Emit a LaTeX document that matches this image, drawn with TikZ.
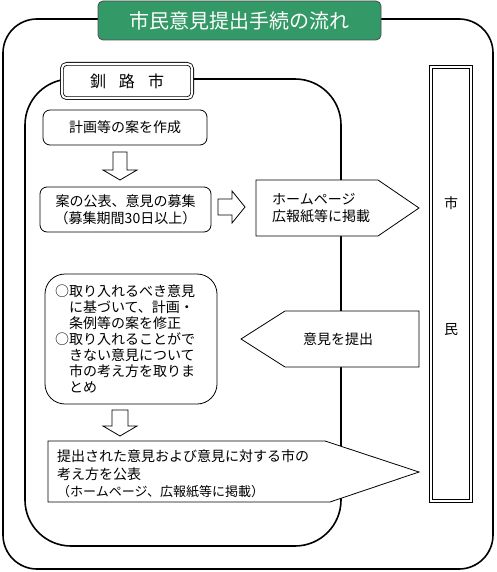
\documentclass[tikz,border=0pt]{standalone}
\usepackage{fontspec}
\newfontfamily\jp{Noto Sans CJK JP}
\definecolor{titlegreen}{RGB}{51,153,102}
\begin{document}
\begin{tikzpicture}[x=1pt,y=-1pt,
  box/.style={draw, line width=0.8pt, fill=white, rounded corners=7pt, inner sep=0pt, font=\jp\fontsize{14}{17}\selectfont},
  txt/.style={inner sep=0pt, font=\jp\fontsize{14}{17}\selectfont},
  barrow/.style={draw, line width=0.8pt, fill=white, line join=miter},
  frame/.style={draw, line width=1.6pt},
  dbox/.style={draw, double, double distance=2pt, line width=0.8pt, fill=white, inner sep=0pt}]
\useasboundingbox (0,0) rectangle (496,572);
% outer frame
\draw[frame, rounded corners=34pt] (3,19) rectangle (493,569);
% title
\node[draw=black!70, line width=0.8pt, fill=titlegreen, rounded corners=5pt, minimum width=283, minimum height=39, inner sep=0pt, text=white, font=\jp\fontsize{20}{22}\selectfont] (title) at (239.5,20.5) {市民意見提出手続の流れ};
% inner frame (city)
\draw[frame, rounded corners=46pt] (25,79) rectangle (341,546);
\node[dbox, rounded corners=5pt, minimum width=130.4, minimum height=34.4, font=\jp\fontsize{16}{18}\selectfont] (city) at (127,81) {釧\hspace{13pt}路\hspace{13pt}市};
% pentagons
\draw[barrow] (256,180) -- (378,180) -- (419,208) -- (378,236) -- (256,236) -- cycle;
\node[txt, anchor=west, align=left] (web) at (272,208) {ホームページ\\広報紙等に掲載};
\draw[barrow] (419,311) -- (285,311) -- (241,339) -- (285,367) -- (419,367) -- cycle;
\node[txt] (submit) at (338,339) {意見を提出};
\draw[barrow] (48,441) -- (325,441) -- (419,472) -- (330,502) -- (48,502) -- cycle;
\node[inner sep=0pt, anchor=west, align=left, font=\jp\fontsize{14}{17.5}\selectfont] (publish) at (57,474) {提出された意見および意見に対する市の\\考え方を公表\\{\fontsize{13}{17.5}\selectfont （ホームページ、広報紙等に掲載）}};
% boxes
\node[box, minimum width=164, minimum height=35] (draft) at (125,127.5) {計画等の案を作成};
\node[box, minimum width=171, minimum height=45, align=center] (announce) at (125.5,209.5) {案の公表、意見の募集\\（募集期間30日以上）};
\node[box, rounded corners=20pt, minimum width=172, minimum height=130, text width=152, align=left, font=\jp\fontsize{14}{16}\selectfont] (revise) at (131,339) {○取り入れるべき意見\\\hspace*{1em}に基づいて、計画・\\\hspace*{1em}条例等の案を修正\\○取り入れることがで\\\hspace*{1em}きない意見について\\\hspace*{1em}市の考え方を取りま\\\hspace*{1em}とめ};
% block arrows
\draw[barrow] (113,152) -- (127,152) -- (127,170) -- (137,170) -- (120,180) -- (103,170) -- (113,170) -- cycle;
\draw[barrow] (218,199) -- (232,199) -- (232,191) -- (245,207) -- (232,223) -- (232,215) -- (218,215) -- cycle;
\draw[barrow] (112,410) -- (128,410) -- (128,426) -- (137,426) -- (120,436) -- (103,426) -- (112,426) -- cycle;
% citizens
\node[dbox, minimum width=40.4, minimum height=434.4] (citizens) at (451,284) {};
\node[txt] (shi) at (451,203) {市};
\node[txt] (min) at (451,330) {民};
\end{tikzpicture}
\end{document}
